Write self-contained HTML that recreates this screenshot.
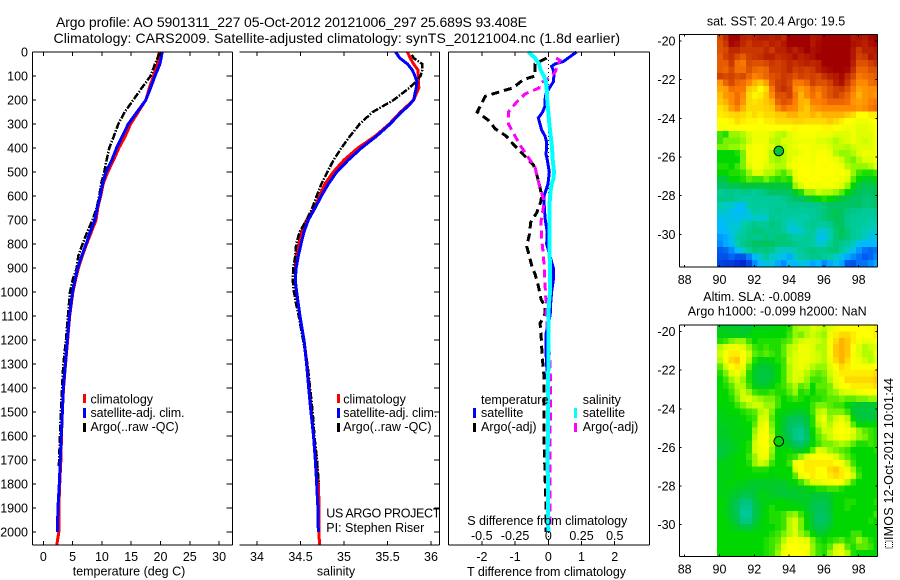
<!DOCTYPE html>
<html lang="en">
<head>
<meta charset="utf-8">
<title>Argo profile 5901311_227</title>
<style>
html,body{margin:0;padding:0;background:#fff;width:900px;height:580px;overflow:hidden}
svg{display:block}
text{font-family:"Liberation Sans",Arial,sans-serif;font-size:12.5px;fill:#000}
</style>
</head>
<body>
<svg id="chart" xmlns="http://www.w3.org/2000/svg" width="900" height="580" viewBox="0 0 900 580">
  <text x="56" y="27" style="font-size:14px" textLength="471" lengthAdjust="spacing">Argo profile: AO 5901311_227 05-Oct-2012 20121006_297 25.689S 93.408E</text>
  <text x="53.5" y="43" style="font-size:14px" textLength="566.5" lengthAdjust="spacing">Climatology: CARS2009. Satellite-adjusted climatology: synTS_20121004.nc (1.8d earlier)</text>
  <g id="layer-maps"></g>
  <g id="layer-lines"></g>
  <g id="layer-axes"></g>

  <text x="129" y="575.5" text-anchor="middle">temperature (deg C)</text>
  <text x="336" y="575.5" text-anchor="middle">salinity</text>
  <text x="467" y="576" textLength="159" lengthAdjust="spacing">T difference from climatology</text>
  <text x="467.3" y="525" textLength="160" lengthAdjust="spacing">S difference from climatology</text>

  <g>
    <rect x="83" y="394" width="3" height="9" fill="#ff0000"/>
    <text x="90.5" y="403.5">climatology</text>
    <rect x="83" y="408" width="3" height="10" fill="#0000ff"/>
    <text x="90.5" y="417" textLength="94" lengthAdjust="spacing">satellite-adj. clim.</text>
    <rect x="83" y="423" width="3" height="9" fill="#000"/>
    <text x="90.5" y="431">Argo(..raw -QC)</text>
  </g>
  <g>
    <rect x="337" y="394" width="3" height="9" fill="#ff0000"/>
    <text x="343.3" y="403.5">climatology</text>
    <rect x="337" y="408" width="3" height="10" fill="#0000ff"/>
    <text x="343.3" y="417" textLength="94" lengthAdjust="spacing">satellite-adj. clim.</text>
    <rect x="337" y="423" width="3" height="9" fill="#000"/>
    <text x="343.3" y="431">Argo(..raw -QC)</text>
  </g>
  <text x="326.3" y="517.5" textLength="114" lengthAdjust="spacing">US ARGO PROJECT</text>
  <text x="326.3" y="532">PI: Stephen Riser</text>

  <g>
    <text x="481" y="404">temperature</text>
    <rect x="473" y="408" width="3" height="10" fill="#0000ff"/>
    <text x="481" y="417">satellite</text>
    <rect x="473" y="423" width="3" height="9" fill="#000"/>
    <text x="481" y="431">Argo(-adj)</text>
    <text x="582.7" y="404">salinity</text>
    <rect x="574" y="408" width="3" height="10" fill="#00ffff"/>
    <text x="582.7" y="417">satellite</text>
    <rect x="574" y="423" width="3" height="9" fill="#ff00ff"/>
    <text x="582.7" y="431">Argo(-adj)</text>
  </g>

  <text x="776" y="25.5" text-anchor="middle">sat. SST: 20.4 Argo: 19.5</text>
  <text x="703.3" y="301">Altim. SLA: -0.0089</text>
  <text x="687.7" y="315.7" textLength="179" lengthAdjust="spacing">Argo h1000: -0.099 h2000: NaN</text>

  <rect x="885.5" y="541" width="7" height="7" fill="none" stroke="#000" stroke-width="1" stroke-dasharray="1 1"/>
  <text transform="translate(893,540) rotate(-90)" textLength="162" lengthAdjust="spacing">IMOS 12-Oct-2012 10:01:44</text>
</svg>

<script>
// ---- depth axis ----
const depthTicks = [0,100,200,300,400,500,600,700,800,900,1000,1100,1200,1300,1400,1500,1600,1700,1800,1900,2000];

// ---- temperature panel ----
const tempTicks = [0,5,10,15,20,25,30];
const satTempDepths = [0,50,100,150,200,250,300,350,400,450,500,550,600,650,700,750,800,850,900,950,1000,1100,1200,1300,1400,1500,1600,1700,1800,1900,2000];
const satTemp = [20.3,19.9,19.06,18.3,17.5,16.0,14.5,13.5,12.5,11.7,10.7,10.1,9.7,9.2,8.8,8.0,7.3,6.55,5.87,5.4,5.0,4.45,4.1,3.76,3.42,3.25,3.07,2.9,2.73,2.5,2.4];
const climTempDepths = [0,50,100,150,200,250,300,350,400,450,500,550,600,650,700,750,800,850,900,950,1000,1100,1200,1300,1400,1500,1600,1700,1800,1900,2000,2054];
const climTemp = [19.75,19.45,18.8,18.1,17.5,16.2,14.9,14.0,12.9,12.0,11.0,10.2,9.8,9.3,9.0,8.2,7.4,6.65,6.0,5.5,5.05,4.5,4.15,3.8,3.45,3.25,3.1,3.0,2.8,2.65,2.65,2.3];
const argoTempDepths = [5,50,100,150,200,250,300,350,400,450,500,550,600,650,700,750,800,850,900,950,1000,1100,1200,1300,1400,1500,1600,1700,1730];
const argoTemp = [19.85,19.06,18.3,16.8,15.35,13.9,12.8,12.05,11.26,10.8,10.4,9.85,9.56,9.1,8.4,7.5,6.7,5.97,5.7,5.0,4.56,4.2,3.87,3.42,3.2,3.0,2.85,2.7,2.65];

// ---- salinity panel ----
const salTicks = [34,34.5,35,35.5,36];
const salTickLabels = ['34','34.5','35','35.5','36'];
const satSalDepths = [0,25,50,75,100,125,150,200,225,250,300,350,400,450,500,550,600,650,700,750,800,850,900,950,1000,1100,1200,1300,1400,1500,1600,1700,1800,1900,2000];
const satSal = [35.594,35.64,35.73,35.785,35.816,35.84,35.83,35.8,35.74,35.66,35.53,35.376,35.2,35.05,34.916,34.82,34.74,34.667,34.59,34.54,34.506,34.475,34.45,34.44,34.456,34.494,34.54,34.57,34.594,34.62,34.65,34.67,34.686,34.7,34.705];
const climSalDepths = [0,25,50,75,100,150,200,250,300,350,400,450,500,550,600,650,700,750,800,850,900,950,1000,1100,1200,1300,1400,1500,1600,1700,1800,1900,2000,2054];
const climSal = [35.73,35.76,35.8,35.85,35.855,35.86,35.8,35.65,35.52,35.36,35.16,35.0,34.877,34.78,34.72,34.66,34.57,34.51,34.48,34.45,34.44,34.44,34.45,34.494,34.54,34.575,34.6,34.625,34.65,34.68,34.705,34.715,34.71,34.72];
const argoSalDepths = [12,25,50,75,100,125,150,175,200,225,250,300,350,400,450,500,550,600,650,700,750,800,850,900,950,1000,1050,1100,1200,1300,1400,1500,1600,1700,1800];
const argoSal = [35.78,35.8,35.9,35.9,35.88,35.82,35.75,35.66,35.57,35.45,35.33,35.18,35.07,34.97,34.88,34.81,34.74,34.686,34.635,34.57,34.49,34.45,34.44,34.417,34.41,34.425,34.45,34.48,34.53,34.58,34.61,34.64,34.66,34.69,34.71];

// ---- difference panel ----
const diffTempTicks = [-2,-1,0,1,2];
const diffTempLabels = ['-2','-1','0','1','2'];
const diffSalTicks = [-0.5,-0.25,0,0.25,0.5];
const diffSalLabels = ['-0.5','-0.25','0','0.25','0.5'];
const satTempDiffDepths = [0,25,40,50,60,75,100,125,150,175,200,225,250,275,300,325,350,375,400,425,450,500,550,600,650,700,750,800,850,900,950,1000,1050,1075,1100,1175,1250,1300,1400,1600,1800,2000];
const satTempDiff = [0.85,0.6,0.45,0.2,0.1,0.15,0.17,0.15,0.03,-0.07,-0.1,-0.1,-0.17,-0.3,-0.25,-0.2,-0.1,-0.05,-0.05,-0.07,-0.03,0.03,-0.01,-0.13,-0.12,-0.09,-0.03,-0.05,0.05,0.15,0.15,0.1,0.07,0.07,0.05,-0.07,-0.07,-0.05,-0.02,-0.01,-0.01,-0.03];
const argoTempDiffDepths = [25,50,100,115,150,165,185,225,250,285,320,350,385,425,470,500,550,600,625,670,710,760,810,850,890,925,975,1030,1060,1090,1110,1130,1170,1230,1290,1350,1400,1500,1600,1700,1800,1900,2000];
const argoTempDiff = [-0.05,-0.4,-0.4,-0.75,-1.07,-1.45,-1.9,-2.05,-2.14,-1.8,-1.6,-1.27,-1.05,-0.77,-0.45,-0.37,-0.27,-0.2,-0.23,-0.35,-0.53,-0.57,-0.65,-0.57,-0.5,-0.4,-0.3,-0.22,-0.1,-0.1,-0.15,-0.25,-0.22,-0.2,-0.17,-0.13,-0.13,-0.13,-0.13,-0.11,-0.09,-0.07,-0.07];
const satSalDiffDepths = [0,25,50,75,100,125,150,200,250,300,350,400,450,500,530,550,600,650,700,800,900,1000,1050,1100,1300,1500,1700,2000];
const satSalDiff = [-0.15,-0.1,-0.07,-0.058,-0.033,-0.018,-0.012,-0.008,0,0.008,0.018,0.028,0.033,0.043,0.038,0.025,0.013,0.008,0.008,0.008,0.013,0.013,0.005,0,0,-0.002,-0.005,0];
const argoSalDiffDepths = [25,35,50,85,110,130,150,175,210,250,300,350,390,440,480,520,570,610,650,710,780,830,900,960,1020,1050,1090,1200,1280,1350,1400,1500,1600,1700,1800,1900,1970];
const argoSalDiff = [0.06,0.088,0.075,0.05,0,-0.06,-0.07,-0.175,-0.24,-0.3,-0.3,-0.25,-0.21,-0.15,-0.1,-0.083,-0.06,-0.038,-0.038,-0.055,-0.05,-0.04,-0.03,-0.025,-0.02,-0.012,-0.017,0,0.012,0.015,0.018,0.018,0.012,0.012,0.012,0.012,0.012];

// ---- map panels ----
const mapLonTicks = [88,90,92,94,96,98];
const mapLatTicks = [-20,-22,-24,-26,-28,-30];
const argoLon = 93.408;
const argoLat = -25.689;
const argoSstValue = 47;
const gridLonStart = 89.857;
const gridLatStart = -19.65;
const gridStep = 1 / 3;
const sstGrid = [
[91,95,100,100,96,95,96,97,97,96,97,95,100,100,100,100,97,98,100,100,100,100,100,97,98,97,99,100],
[90,93,99,98,95,93,95,95,94,96,95,97,100,100,100,100,97,99,100,100,100,100,100,98,97,96,98,99],
[90,91,95,95,93,93,93,93,95,93,96,96,98,96,98,100,98,99,100,100,100,100,100,97,93,96,96,97],
[89,92,94,91,89,92,93,94,96,96,94,95,96,98,96,97,98,100,100,100,100,100,100,97,92,93,97,96],
[89,89,93,87,86,91,90,90,91,93,92,93,95,94,95,96,95,96,100,100,100,100,100,96,90,90,92,94],
[89,88,91,87,87,90,88,87,88,92,92,93,95,92,93,92,93,96,98,99,100,100,99,94,88,88,90,90],
[92,91,92,90,91,88,85,86,88,90,91,93,92,90,92,91,92,91,94,96,97,99,95,91,86,87,88,89],
[83,88,91,88,87,84,80,78,82,89,92,93,91,86,86,88,92,90,90,92,96,98,93,88,84,84,87,88],
[81,82,87,86,86,78,76,72,76,86,92,94,92,84,82,84,88,86,88,90,92,93,90,86,82,83,84,84],
[79,83,84,87,84,76,73,74,78,84,90,90,92,86,80,84,87,84,88,90,92,90,88,84,80,83,84,83],
[78,80,84,87,83,76,75,76,78,80,88,90,89,85,80,79,85,85,86,88,88,88,87,83,82,83,85,86],
[75,77,82,85,80,76,76,76,77,78,84,87,85,84,80,78,82,83,84,84,84,84,84,84,83,84,86,87],
[74,75,76,77,76,74,76,74,76,76,78,78,80,80,78,78,80,78,80,80,80,80,78,76,72,72,74,74],
[72,72,73,76,74,73,73,72,74,74,76,76,76,77,77,76,76,76,76,78,76,74,72,70,68,68,70,72],
[70,70,71,72,72,72,72,71,72,71,72,72,72,73,72,72,72,72,73,73,71,70,68,68,66,66,68,70],
[54,52,60,60,62,66,68,68,68,66,63,62,66,68,70,70,70,68,68,68,66,66,66,68,66,66,66,70],
[54,58,58,58,60,64,68,68,68,63,62,66,66,67,68,68,68,66,66,64,62,64,66,68,66,64,66,68],
[58,58,60,60,62,68,70,70,68,66,62,63,66,68,70,70,68,68,68,66,63,63,62,64,66,66,66,68],
[50,50,50,52,58,70,70,70,68,62,58,62,66,66,68,70,68,70,70,68,62,60,60,62,66,68,68,68],
[50,50,50,50,58,68,70,70,68,62,60,62,66,70,70,70,68,72,72,70,68,64,60,58,62,66,66,68],
[52,52,50,54,58,66,70,70,66,64,62,62,68,70,72,72,70,72,70,72,70,68,62,60,60,60,62,66],
[50,50,52,52,54,60,66,66,62,62,58,55,60,68,72,72,70,72,72,72,70,70,68,60,54,52,52,54],
[46,46,50,50,52,56,54,54,58,54,52,54,52,66,70,72,72,72,70,70,70,68,66,56,50,48,48,50],
[42,42,44,44,46,46,47,46,46,47,46,46,48,60,66,70,70,68,70,70,68,66,60,50,46,44,44,46],
[36,38,38,36,38,38,36,38,40,42,42,42,42,48,52,60,60,64,62,62,60,56,50,46,44,42,42,44],
[38,38,38,36,34,34,36,36,36,36,36,38,40,42,42,46,48,50,52,50,48,46,44,42,42,40,40,42],
[32,30,30,26,26,34,36,35,35,36,36,36,38,38,38,38,38,38,40,42,42,42,42,42,42,40,40,42],
[30,30,27,24,25,30,34,34,33,36,38,36,36,36,36,36,36,38,40,42,44,42,40,38,38,36,36,38],
[26,27,27,26,28,28,30,29,30,38,36,35,34,34,33,33,36,38,40,42,44,42,38,36,36,36,34,36],
[24,26,28,28,32,36,38,36,36,40,38,34,30,30,33,36,38,36,36,38,42,42,38,36,36,34,32,32],
[24,24,28,30,34,38,40,40,38,38,38,36,30,28,30,34,36,30,28,34,40,44,40,36,34,32,30,30],
[20,22,26,34,36,38,38,38,40,38,40,40,38,34,34,36,34,28,26,32,40,42,40,36,34,30,27,28],
[18,22,25,32,38,40,42,42,42,42,40,40,40,38,36,36,34,30,30,36,40,38,36,30,26,24,24,25],
[10,12,18,24,30,36,40,38,40,38,32,30,30,34,36,38,40,38,38,40,40,36,30,26,20,14,12,14],
[8,8,12,8,8,16,24,30,36,30,28,26,22,30,34,36,38,38,36,34,30,26,22,18,14,10,12,18],
[6,4,4,2,0,6,18,24,28,28,22,18,26,24,28,26,22,24,18,22,26,22,10,8,14,14,18,22]
];
const slaGrid = [
[46,46,46,46,44,44,48,48,48,48,50,50,52,60,62,62,66,64,62,66,68,72,72,72,72,72,70,74],
[48,48,47,47,46,48,50,50,50,50,50,50,54,60,58,62,64,62,60,68,74,76,76,74,72,72,72,74],
[52,54,58,60,60,54,50,52,52,52,52,54,56,62,64,66,66,64,62,70,76,80,78,74,70,68,68,70],
[62,66,68,68,66,60,54,52,54,52,52,56,62,64,68,68,66,62,62,70,78,80,78,72,66,62,64,66],
[64,70,74,74,72,64,56,54,56,54,52,56,62,66,68,68,66,64,62,70,78,80,78,70,66,62,62,68],
[62,70,76,78,72,62,52,48,48,50,52,54,64,66,68,68,66,64,62,68,76,80,76,72,68,64,62,66],
[56,64,72,74,68,56,48,44,44,46,50,54,62,66,68,66,62,60,60,66,72,76,74,70,70,70,70,72],
[52,58,66,68,64,52,46,42,42,44,50,54,62,66,66,62,58,56,58,64,68,74,74,74,74,74,74,76],
[50,54,60,64,60,52,46,42,42,46,50,54,62,66,64,60,54,54,56,62,68,72,76,76,76,76,76,78],
[50,52,56,62,62,54,48,46,46,48,52,54,58,62,56,58,50,56,56,58,66,70,72,74,74,74,74,76],
[50,50,54,60,64,60,54,52,52,54,52,52,56,60,52,54,50,54,54,58,60,64,66,66,68,70,72,72],
[50,50,52,58,64,66,62,60,58,58,54,50,52,54,52,50,52,52,54,56,56,58,56,56,58,58,60,60],
[50,50,50,54,58,62,64,64,60,60,54,50,50,50,50,50,54,58,58,56,54,54,50,46,44,44,44,46],
[48,48,50,50,52,54,56,62,64,58,50,48,48,46,46,48,54,62,64,58,58,58,54,44,42,42,42,44],
[47,48,48,48,50,52,54,64,66,56,50,46,40,38,38,44,52,64,68,60,64,68,62,50,44,42,42,44],
[47,47,48,48,50,50,56,66,70,58,50,44,38,34,34,42,52,62,66,62,68,70,66,56,50,50,50,50],
[46,46,48,48,48,50,60,68,72,60,50,44,36,30,28,38,50,58,64,64,70,72,70,66,60,56,54,52],
[46,46,48,48,48,50,62,70,72,62,50,46,38,30,26,36,48,56,60,64,68,70,68,64,60,58,54,52],
[44,44,46,48,50,52,64,70,72,62,50,48,44,36,34,42,50,54,58,58,60,62,60,56,52,52,54,52],
[42,44,46,48,50,52,64,68,70,60,50,50,50,46,46,50,56,66,64,60,58,56,54,50,50,50,50,52],
[44,46,48,50,50,54,60,68,68,58,50,50,52,54,60,66,70,72,72,70,66,60,56,52,50,50,50,50],
[48,48,48,50,50,52,60,64,62,54,50,50,54,68,72,74,74,74,74,74,72,70,62,54,50,50,50,50],
[48,48,48,50,50,50,52,52,52,50,50,50,50,66,72,74,74,72,72,76,78,74,68,60,52,50,50,50],
[48,48,48,50,50,50,50,50,50,48,50,50,50,56,68,72,74,72,72,74,76,74,72,64,54,50,50,50],
[48,48,50,48,48,46,46,46,46,46,46,46,48,50,54,60,66,66,68,70,72,70,62,54,50,50,50,50],
[48,48,48,46,46,44,44,46,46,46,44,44,46,46,46,48,50,52,52,54,54,52,50,50,50,50,50,50],
[48,48,46,44,40,40,44,48,48,46,46,44,44,44,46,46,44,44,44,46,50,50,50,50,50,50,50,50],
[50,48,44,38,32,32,40,46,48,48,50,50,48,48,46,46,42,40,40,44,50,50,52,52,50,50,50,52],
[50,48,44,36,28,28,38,46,50,52,50,50,50,50,50,46,40,38,38,44,50,50,52,50,50,50,50,50],
[50,48,44,38,26,26,38,46,50,52,52,54,58,60,54,48,42,36,36,42,50,50,50,50,50,50,50,54],
[50,50,46,40,30,30,40,48,50,52,52,54,62,66,58,50,42,36,36,42,50,50,50,50,50,50,52,50],
[50,50,48,46,42,42,46,48,50,50,52,54,62,66,58,50,44,40,40,46,50,50,50,50,50,50,50,50],
[50,50,50,50,50,50,50,50,50,52,54,58,62,66,60,56,50,46,46,50,50,50,50,54,54,50,50,50],
[50,50,50,50,50,50,50,50,52,54,56,62,68,70,68,66,58,52,50,52,54,56,52,54,60,56,52,50],
[50,50,50,50,50,50,50,50,52,54,58,66,72,72,70,70,60,54,52,56,64,66,56,52,56,56,54,50],
[50,50,50,50,50,50,50,50,52,54,60,68,72,72,72,68,60,54,52,60,66,68,62,52,50,50,50,50]
];

// ---- helpers ----
const NS = 'http://www.w3.org/2000/svg';
const mapLayer = document.getElementById('layer-maps');
const lineLayer = document.getElementById('layer-lines');
const axisLayer = document.getElementById('layer-axes');

function yDepth(d) { return 52 + d * 0.24; }
function xTemp(t) { return 43.3 + t * 5.86; }
function xSal(s) { return 257 + (s - 34) * 87; }
function xDiffT(t) { return 548.3 + t * 33.2; }
function xDiffS(s) { return 548.3 + s * 133; }
function xLon(lon) { return 684.7 + (lon - 88) * 17.4; }
function yLat1(lat) { return 41 + (-20 - lat) * 19.33; }
function yLat2(lat) { return 331.7 + (-20 - lat) * 19.27; }

function addLine(parent, x1, y1, x2, y2, name, width, dash) {
  const el = document.createElementNS(NS, 'line');
  
  
  el.setAttribute('x1', x1);
  el.setAttribute('y1', y1);
  el.setAttribute('x2', x2);
  el.setAttribute('y2', y2);
  el.setAttribute('stroke', '#000');
  el.setAttribute('stroke-width', width || 1);
  el.setAttribute('shape-rendering', 'crispEdges');
  if (dash) el.setAttribute('stroke-dasharray', dash);
  parent.appendChild(el);
}

function addText(parent, x, y, str, anchor, name) {
  const el = document.createElementNS(NS, 'text');
  
  
  el.setAttribute('x', x);
  el.setAttribute('y', y);
  el.setAttribute('text-anchor', anchor);
  el.textContent = str;
  parent.appendChild(el);
}

function addSeries(depths, values, xFn, color, width, dash, name) {
  const el = document.createElementNS(NS, 'polyline');
  
  
  const pts = depths.map(function (d, i) { return xFn(values[i]).toFixed(2) + ',' + yDepth(d).toFixed(2); });
  el.setAttribute('points', pts.join(' '));
  el.setAttribute('fill', 'none');
  el.setAttribute('stroke', color);
  el.setAttribute('stroke-width', width);
  el.setAttribute('shape-rendering', 'crispEdges');
  if (dash) el.setAttribute('stroke-dasharray', dash);
  lineLayer.appendChild(el);
}

const colorStops = [
  [0,0,40,210],[10,0,90,240],[18,0,140,255],[24,0,185,255],[28,0,195,220],[32,0,205,175],[38,0,200,140],
  [42,0,195,100],[47,0,200,50],[50,0,215,0],[56,90,235,0],[60,150,248,0],[64,205,255,0],
  [68,240,255,0],[72,255,255,0],[78,255,200,0],[85,255,128,0],[92,208,64,0],[100,160,0,0]
];
function colorFor(v) {
  for (let i = 1; i < colorStops.length; i++) {
    const b = colorStops[i];
    if (v <= b[0]) {
      const a = colorStops[i - 1];
      const f = (v - a[0]) / (b[0] - a[0]);
      const c = [1, 2, 3].map(function (k) { return Math.round(a[k] + (b[k] - a[k]) * f); });
      return 'rgb(' + c.join(',') + ')';
    }
  }
  return 'rgb(160,0,0)';
}
function slaColorFor(v) {
  return colorFor(v < 50 ? 50 - (50 - v) * 0.55 : v);
}

function drawMap(grid, yLat, top, bottom, prefix, colorFn) {
  const left = 679.3, right = 877.7;
  grid.forEach(function (row, j) {
    row.forEach(function (v, i) {
      const x0 = xLon(gridLonStart + i * gridStep);
      const x1 = Math.min(right, xLon(gridLonStart + (i + 1) * gridStep));
      const y0 = Math.max(top, yLat(gridLatStart - j * gridStep));
      const y1 = Math.min(bottom, yLat(gridLatStart - (j + 1) * gridStep));
      const r = document.createElementNS(NS, 'rect');
      
      
      r.setAttribute('x', x0.toFixed(2));
      r.setAttribute('y', y0.toFixed(2));
      r.setAttribute('width', (x1 - x0 + 0.4).toFixed(2));
      r.setAttribute('height', (y1 - y0 + 0.4).toFixed(2));
      r.setAttribute('fill', colorFn(v));
      r.setAttribute('shape-rendering', 'crispEdges');
      mapLayer.appendChild(r);
    });
  });
  addLine(axisLayer, left, top, right, top, prefix + '-top-spine');
  addLine(axisLayer, left, bottom, right, bottom, prefix + '-bottom-spine');
  addLine(axisLayer, left, top, left, bottom, prefix + '-left-spine');
  addLine(axisLayer, right, top, right, bottom, prefix + '-right-spine');
  mapLonTicks.forEach(function (lon) {
    addLine(axisLayer, xLon(lon), bottom, xLon(lon), bottom - 2, prefix + '-x-tick');
    addLine(axisLayer, xLon(lon), top, xLon(lon), top + 2, prefix + '-x-tick');
    addText(axisLayer, xLon(lon), bottom + 17, String(lon), 'middle', prefix + '-x-tick-label');
  });
  mapLatTicks.forEach(function (lat) {
    addLine(axisLayer, left, yLat(lat), left + 2, yLat(lat), prefix + '-y-tick');
    addLine(axisLayer, right, yLat(lat), right - 2, yLat(lat), prefix + '-y-tick');
    addText(axisLayer, 675.5, yLat(lat) + 4.5, String(lat), 'end', prefix + '-y-tick-label');
  });
}

function drawArgoMarker(yLat, fill, name) {
  const c = document.createElementNS(NS, 'circle');
  
  
  c.setAttribute('cx', xLon(argoLon).toFixed(2));
  c.setAttribute('cy', yLat(argoLat).toFixed(2));
  c.setAttribute('r', 4.8);
  c.setAttribute('fill', fill);
  c.setAttribute('stroke', '#000');
  c.setAttribute('stroke-width', 1);
  axisLayer.appendChild(c);
}

// ---- profile axes ----
const panelTop = 52, panelBottom = 545;

// temperature panel frame
addLine(axisLayer, 32.3, panelTop, 232.3, panelTop, 'temperature-top-spine');
addLine(axisLayer, 32.3, panelBottom, 232.3, panelBottom, 'temperature-bottom-spine');
addLine(axisLayer, 32.3, panelTop, 32.3, panelBottom, 'temperature-left-spine');
addLine(axisLayer, 232.3, panelTop, 232.3, panelBottom, 'temperature-right-spine');
depthTicks.forEach(function (d) {
  addLine(axisLayer, 32.3, yDepth(d), 36, yDepth(d), 'depth-tick-left');
  addLine(axisLayer, 226.6, yDepth(d), 232.3, yDepth(d), 'depth-tick-right');
  addText(axisLayer, 28, yDepth(d) + 4.5, String(d), 'end', 'depth-tick-label');
});
tempTicks.forEach(function (t) {
  addLine(axisLayer, xTemp(t), panelTop, xTemp(t), panelTop + 4, 'temperature-tick-top');
  addLine(axisLayer, xTemp(t), panelBottom, xTemp(t), panelBottom - 4, 'temperature-tick-bottom');
  addText(axisLayer, xTemp(t), 561, String(t), 'middle', 'temperature-tick-label');
});

// salinity panel frame
addLine(axisLayer, 239.3, panelTop, 439.5, panelTop, 'salinity-top-spine');
addLine(axisLayer, 239.3, panelBottom, 439.5, panelBottom, 'salinity-bottom-spine');
addLine(axisLayer, 439.5, panelTop, 439.5, panelBottom, 'salinity-right-spine');
depthTicks.forEach(function (d) {
  addLine(axisLayer, 433.8, yDepth(d), 439.5, yDepth(d), 'salinity-depth-tick');
});
salTicks.forEach(function (s, i) {
  addLine(axisLayer, xSal(s), panelTop, xSal(s), panelTop + 4, 'salinity-tick-top');
  addLine(axisLayer, xSal(s), panelBottom, xSal(s), panelBottom - 4, 'salinity-tick-bottom');
  addText(axisLayer, xSal(s), 561, salTickLabels[i], 'middle', 'salinity-tick-label');
});

// difference panel frame
addLine(axisLayer, 448.4, panelTop, 649.6, panelTop, 'difference-top-spine');
addLine(axisLayer, 448.4, panelBottom, 649.6, panelBottom, 'difference-bottom-spine');
addLine(axisLayer, 448.4, panelTop, 448.4, panelBottom, 'difference-left-spine');
addLine(axisLayer, 649.6, panelTop, 649.6, panelBottom, 'difference-right-spine');
addLine(lineLayer, xDiffT(0), panelTop, xDiffT(0), panelBottom, 'difference-zero-line', 1, '1 3');
diffTempTicks.forEach(function (t, i) {
  addLine(axisLayer, xDiffT(t), panelTop, xDiffT(t), panelTop + 4, 't-difference-tick-top');
  addLine(axisLayer, xDiffT(t), panelBottom, xDiffT(t), panelBottom - 4, 't-difference-tick-bottom');
  addText(axisLayer, xDiffT(t), 561, diffTempLabels[i], 'middle', 't-difference-tick-label');
});
diffSalTicks.forEach(function (s, i) {
  addText(axisLayer, xDiffS(s), 540, diffSalLabels[i], 'middle', 's-difference-tick-label');
});

// ---- profile series ----
addSeries(climTempDepths, climTemp, xTemp, '#ff0000', 3, null, 'temperature-climatology-line');
addSeries(argoTempDepths, argoTemp, xTemp, '#000000', 2.5, '7 1.5 1.5 1.5', 'temperature-argo-line');
addSeries(satTempDepths, satTemp, xTemp, '#0000ff', 3, null, 'temperature-satellite-line');

addSeries(climSalDepths, climSal, xSal, '#ff0000', 3, null, 'salinity-climatology-line');
addSeries(argoSalDepths, argoSal, xSal, '#000000', 2.5, '7 1.5 1.5 1.5', 'salinity-argo-line');
addSeries(satSalDepths, satSal, xSal, '#0000ff', 3, null, 'salinity-satellite-line');

addSeries(argoTempDiffDepths, argoTempDiff, xDiffT, '#000000', 3, '8 5', 't-difference-argo-line');
addSeries(satTempDiffDepths, satTempDiff, xDiffT, '#0000ff', 3, null, 't-difference-satellite-line');
addSeries(argoSalDiffDepths, argoSalDiff, xDiffS, '#ff00ff', 3, '8 5', 's-difference-argo-line');
addSeries(satSalDiffDepths, satSalDiff, xDiffS, '#00ffff', 4, null, 's-difference-satellite-line');

// ---- maps ----
drawMap(sstGrid, yLat1, 34.3, 267, 'sst-map', colorFor);
drawMap(slaGrid, yLat2, 325, 556.7, 'sla-map', slaColorFor);
drawArgoMarker(yLat1, colorFor(argoSstValue), 'sst-argo-marker');
drawArgoMarker(yLat2, 'none', 'sla-argo-marker');
</script>
</body>
</html>
